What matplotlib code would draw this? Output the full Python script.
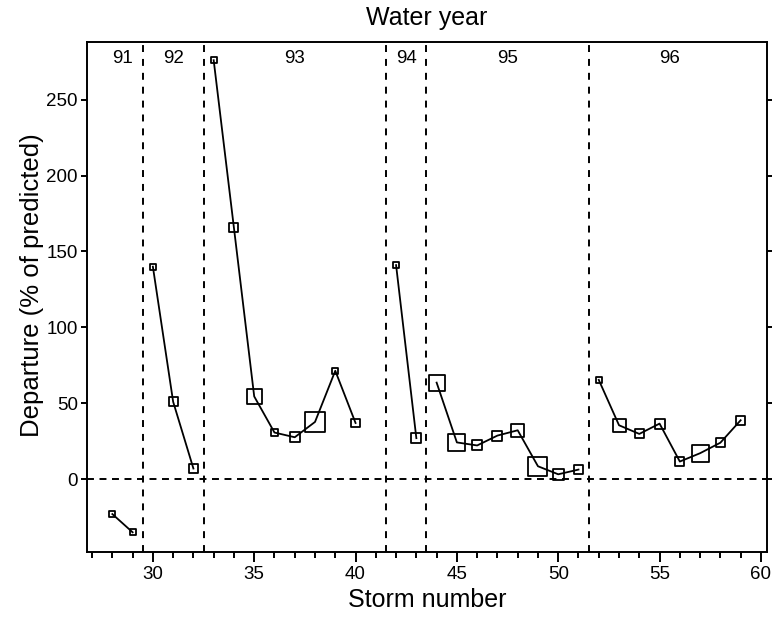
import matplotlib
matplotlib.use("Agg")
import matplotlib.pyplot as plt
from matplotlib.ticker import MultipleLocator
import numpy as np

plt.rcParams['font.family'] = ['Liberation Sans', 'DejaVu Sans']
plt.rcParams['lines.scale_dashes'] = False

# storm data
storms = [28, 29, 30, 31, 32, 33, 34, 35, 36, 37, 38, 39, 40, 42, 43,
          44, 45, 46, 47, 48, 49, 50, 51, 52, 53, 54, 55, 56, 57, 58, 59]
departure = [-23, -35, 140, 51, 7, 276, 165.5, 54.5, 30.7, 27.6, 37.7, 71.4, 37, 141, 27,
             63.6, 24.2, 22.2, 28.7, 32.2, 8.5, 3.2, 6.3, 65.4, 35.5, 29.8, 36.6, 11.6, 17.1, 24, 38.8]
water_year = [91, 91, 92, 92, 92, 93, 93, 93, 93, 93, 93, 93, 93, 94, 94,
              95, 95, 95, 95, 95, 95, 95, 95, 96, 96, 96, 96, 96, 96, 96, 96]
# marker size (relative, in px edge length)
marker_px = [6, 6, 6, 9, 9.5, 6, 9, 15, 7.5, 10, 20, 6, 8.5, 6, 10,
             16, 17, 10, 10, 13, 19, 11, 9, 6, 13, 9, 10, 9, 17, 9, 9]

year_labels = ['91', '92', '93', '94', '95', '96']
year_label_x = [28.5, 31.0, 37.0, 42.5, 47.5, 55.5]
year_bounds = [29.5, 32.5, 41.5, 43.5, 51.5]

storms = np.array(storms)
departure = np.array(departure)
water_year = np.array(water_year)
marker_pt = np.array(marker_px) * 0.72

fig = plt.figure(figsize=(7.72, 6.26), dpi=100)
ax = fig.add_axes([0.1127, 0.1182, 0.8808, 0.8147])

for yr in np.unique(water_year):
    m = water_year == yr
    ax.plot(storms[m], departure[m], color='black', lw=1.3, zorder=3)

ax.scatter(storms, departure, s=marker_pt ** 2, marker='s', facecolors='none',
           edgecolors='black', linewidths=1.3, zorder=4)

for xb in year_bounds:
    ax.axvline(xb, color='black', lw=1.4, dashes=(5, 5), zorder=2)
ax.axhline(0, color='black', lw=1.4, dashes=(5, 4), zorder=2)

for lab, xl in zip(year_labels, year_label_x):
    ax.text(xl, 277, lab, ha='center', va='center', fontsize=13.5)

ax.set_xlim(26.75, 60.3)
ax.set_ylim(-48, 288)
ax.xaxis.set_major_locator(MultipleLocator(5))
ax.xaxis.set_minor_locator(MultipleLocator(1))
ax.set_yticks([0, 50, 100, 150, 200, 250])

ax.tick_params(axis='x', which='major', direction='out', length=7, width=1.4,
               labelsize=13.5, pad=3)
ax.tick_params(axis='x', which='minor', direction='out', length=4, width=1.4)
ax.tick_params(axis='y', which='major', direction='out', length=4.5, width=1.4,
               labelsize=13.5, pad=2, right=True)
for sp in ax.spines.values():
    sp.set_linewidth(1.4)

ax.set_xlabel('Storm number', fontsize=18, labelpad=4)
ax.set_ylabel('Departure (% of predicted)', fontsize=18.5)
ax.yaxis.set_label_coords(-0.063, 0.523)
ax.set_title('Water year', fontsize=18, pad=12)

fig.savefig('out.png', dpi=100)
